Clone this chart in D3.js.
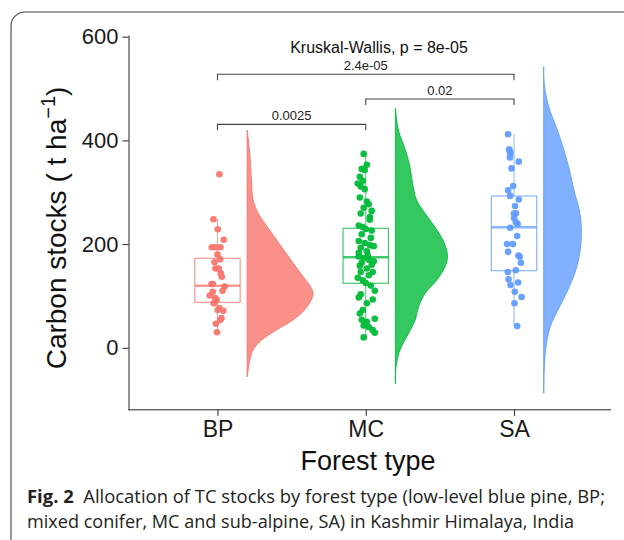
<!DOCTYPE html>
<html lang="en">
<head>
<meta charset="utf-8">
<title>Carbon stocks by forest type</title>
<script src="https://d3js.org/d3.v7.min.js"></script>
<style>
  body { margin: 0; background: #fff; }
  svg { display: block; }
</style>
</head>
<body>
<div id="chart"></div>
<script>
// categories and colours
const groups = ["BP", "MC", "SA"];
const colors = ["#F8766D", "#00BA38", "#619CFF"];

// jittered points: values (t/ha) and horizontal jitter (x-axis units)
const bpValues = [334.6, 248, 228.5, 208.5, 194, 194, 194, 180, 170.6, 153, 153, 143.7, 137, 123, 123, 118, 108, 101, 96, 92, 85.7, 76.7, 73, 71.5, 57.5, 53.6, 46.5, 30, 165, 110];
const bpJitter = [0.013, -0.027, 0.002, 0.042, -0.038, -0.011, 0.020, 0, 0.018, -0.013, 0.009, 0.022, 0.029, -0.040, -0.032, 0.049, -0.032, -0.052, -0.016, -0.005, -0.025, 0.013, 0.002, 0.040, 0.027, 0.018, -0.011, -0.003, -0.020, 0.034];

const mcValues = [374, 353, 345, 343, 330, 322, 317, 311, 306, 282, 277, 270, 264, 259, 247, 236, 233, 229, 226, 219, 212, 206, 202, 198, 193, 196, 186, 176, 173, 170, 167, 164, 160, 158, 153, 146, 146, 140, 135, 130, 125, 120, 110, 103, 93, 86, 97, 73, 66, 56, 54, 50, 43, 40, 34, 29, 20, 183, 178, 290, 252];
const mcJitter = [-0.014, 0.007, -0.027, -0.007, -0.040, -0.020, -0.054, -0.034, -0.007, 0.007, 0.020, -0.014, 0.040, -0.034, 0.027, -0.047, -0.020, 0, 0.040, -0.027, 0.034, -0.047, -0.007, 0.027, -0.034, 0.054, 0.007, -0.047, -0.014, 0.020, 0.054, -0.027, 0.040, -0.040, 0.007, -0.034, 0.047, 0.020, -0.054, -0.020, 0, 0.034, 0.061, -0.034, 0.047, 0.007, -0.047, -0.020, -0.040, 0.061, -0.027, 0.007, -0.014, 0.020, 0.047, 0.061, -0.014, -0.047, 0.014, -0.040, 0.027];

const saValues = [412, 383, 378, 375, 367, 359, 346, 312, 304, 293, 286, 273.5, 259.4, 259, 250, 239, 242, 231.6, 215.6, 200, 200, 185, 178, 175.7, 164, 146, 149.5, 132, 126, 121, 108, 98, 86, 42];
const saJitter = [-0.040, -0.033, -0.028, -0.024, -0.028, 0.032, -0.017, -0.006, -0.040, -0.026, 0.032, 0.007, 0.012, -0.001, 0.001, 0.024, 0.012, -0.026, 0.021, -0.047, -0.008, -0.040, 0.030, 0.039, 0.046, -0.042, 0.012, -0.037, 0.028, -0.024, 0.005, 0.051, 0.003, 0.021];

// box stats: whisker low, Q1, median, Q3, whisker high
const boxLow = [30, 18, 42];
const boxQ1 = [87.7, 124.4, 148.7];
const boxMedian = [119.6, 174.5, 232.4];
const boxQ3 = [172.6, 230.5, 292.8];
const boxHigh = [249, 375, 412];

// half-violin density profiles (value, relative width)
const bpViolinY = [420, 375, 324, 285, 259, 227, 195, 163, 137, 118, 105, 92, 73, 54, 34, 15, -4, -24, -56];
const bpViolinW = [0, 0.04, 0.065, 0.09, 0.17, 0.34, 0.52, 0.70, 0.85, 0.96, 1.0, 0.97, 0.87, 0.70, 0.44, 0.22, 0.09, 0.04, 0];
const mcViolinY = [462, 420, 382, 349, 317, 285, 259, 227, 202, 176, 156, 131, 105, 79, 54, 28, -4, -36, -69];
const mcViolinW = [0, 0.045, 0.15, 0.22, 0.26, 0.32, 0.45, 0.63, 0.74, 0.79, 0.75, 0.63, 0.45, 0.35, 0.30, 0.20, 0.07, 0.01, 0];
const saViolinY = [542, 523, 497, 459, 426, 388, 343, 298, 266, 234, 195, 156, 118, 79, 41, 2, -36, -88];
const saViolinW = [0, 0, 0.02, 0.09, 0.19, 0.29, 0.39, 0.47, 0.54, 0.57, 0.56, 0.50, 0.39, 0.24, 0.10, 0.035, 0.01, 0];

// significance brackets
const bracketFrom = ["BP", "MC", "BP"];
const bracketTo = ["MC", "SA", "SA"];
const bracketY = [431, 480, 527.5];
const bracketLabel = ["0.0025", "0.02", "2.4e-05"];

const yTicks = [0, 200, 400, 600];
const testLabel = "Kruskal-Wallis, p = 8e-05";

const pointsByGroup = [
  bpValues.map((v, i) => ({ v: v, j: bpJitter[i] })),
  mcValues.map((v, i) => ({ v: v, j: mcJitter[i] })),
  saValues.map((v, i) => ({ v: v, j: saJitter[i] }))
];
const violins = [
  bpViolinY.map((v, i) => ({ v: v, w: bpViolinW[i] })),
  mcViolinY.map((v, i) => ({ v: v, w: mcViolinW[i] })),
  saViolinY.map((v, i) => ({ v: v, w: saViolinW[i] }))
];

const width = 624, height = 540;
const font = "'Liberation Sans', Arial, sans-serif";

const svg = d3.select("#chart").append("svg")
  .attr("width", width)
  .attr("height", height);

// figure frame (rounded, runs off the right and bottom)
svg.append("rect")
  .attr("x", 11).attr("y", 12)
  .attr("width", 700).attr("height", 600)
  .attr("rx", 14)
  .attr("fill", "none")
  .attr("stroke", "#444")
  .attr("stroke-width", 1.1);

// scales
const plotLeft = 128.5, plotRight = 611, plotTop = 35, plotBottom = 409.8;
const x = d3.scalePoint().domain(groups).range([plotLeft, 603]).padding(0.6);
const step = x.step();
const y = d3.scaleLinear().domain([-119.6, 603.3]).range([plotBottom, plotTop]);

// axes
const yAxis = svg.append("g")
  .attr("transform", "translate(" + plotLeft + ",0)")
  .call(d3.axisLeft(y).tickValues(yTicks).tickSize(6).tickSizeOuter(0).tickPadding(4));
yAxis.selectAll("text").style("font", "22px " + font).attr("fill", "#1a1a1a");
yAxis.selectAll("line, path").attr("stroke", "#222");

const xAxis = svg.append("g")
  .attr("transform", "translate(0," + plotBottom + ")")
  .call(d3.axisBottom(x).tickSize(6).tickSizeOuter(0).tickPadding(5));
xAxis.select(".domain").attr("d", "M" + plotLeft + ",0H" + plotRight);
xAxis.selectAll("text").style("font", "23px " + font).attr("fill", "#1a1a1a").attr("dy", "0.71em");
xAxis.selectAll("line, path").attr("stroke", "#222");

// axis titles
svg.append("text")
  .attr("x", 368).attr("y", 470)
  .attr("text-anchor", "middle")
  .style("font", "27px " + font)
  .attr("fill", "#111")
  .text("Forest type");

const yTitle = svg.append("text")
  .attr("transform", "translate(66,228) rotate(-90)")
  .attr("text-anchor", "middle")
  .style("font", "28px " + font)
  .attr("fill", "#111");
yTitle.append("tspan").text("Carbon stocks ( t ha");
yTitle.append("tspan").attr("dy", -11).style("font-size", "20px").text("\u22121");
yTitle.append("tspan").attr("dy", 11).text(")");

// half violins
const area = d3.area()
  .curve(d3.curveCatmullRom)
  .y(d => y(d.v));

groups.forEach((g, i) => {
  const edge = x(g) + 0.2 * step;
  area.x0(edge).x1(d => edge + d.w * 0.445 * step);
  svg.append("path")
    .datum(violins[i])
    .attr("d", area)
    .attr("fill", colors[i])
    .attr("fill-opacity", 0.8)
    .attr("stroke", colors[i])
    .attr("stroke-width", 0.9);
});

// boxes
const halfBox = 0.153 * step;
groups.forEach((g, i) => {
  const cx = x(g);
  const b = svg.append("g")
    .attr("stroke", colors[i])
    .attr("stroke-opacity", 0.75)
    .attr("fill", "none");
  b.append("line").attr("x1", cx).attr("x2", cx)
    .attr("y1", y(boxQ3[i])).attr("y2", y(boxHigh[i])).attr("stroke-width", 1);
  b.append("line").attr("x1", cx).attr("x2", cx)
    .attr("y1", y(boxQ1[i])).attr("y2", y(boxLow[i])).attr("stroke-width", 1);
  b.append("rect")
    .attr("x", cx - halfBox).attr("width", 2 * halfBox)
    .attr("y", y(boxQ3[i])).attr("height", y(boxQ1[i]) - y(boxQ3[i]))
    .attr("fill", "#fff")
    .attr("stroke-width", 1.2);
  b.append("line")
    .attr("x1", cx - halfBox).attr("x2", cx + halfBox)
    .attr("y1", y(boxMedian[i])).attr("y2", y(boxMedian[i]))
    .attr("stroke-width", 2.4);
});

// jittered points
groups.forEach((g, i) => {
  svg.append("g").selectAll("circle")
    .data(pointsByGroup[i])
    .enter().append("circle")
    .attr("cx", d => x(g) + d.j * step)
    .attr("cy", d => y(d.v))
    .attr("r", 3.3)
    .attr("fill", colors[i])
    .attr("fill-opacity", 0.95);
});

// significance brackets
const tick = 11.5;
bracketLabel.forEach((lab, i) => {
  const x1 = x(bracketFrom[i]), x2 = x(bracketTo[i]);
  const yy = y(bracketY[i]);
  svg.append("path")
    .attr("d", "M" + x1 + "," + y(bracketY[i] - tick) + "V" + yy + "H" + x2 + "V" + y(bracketY[i] - tick))
    .attr("fill", "none")
    .attr("stroke", "#444")
    .attr("stroke-width", 1.1);
  svg.append("text")
    .attr("x", (x1 + x2) / 2).attr("y", yy - 4)
    .attr("text-anchor", "middle")
    .style("font", "13px " + font)
    .attr("fill", "#222")
    .text(lab);
});

svg.append("text")
  .attr("x", 379).attr("y", 53)
  .attr("text-anchor", "middle")
  .style("font", "16px " + font)
  .attr("fill", "#111")
  .text(testLabel);

// caption
const capFont = "'Open Sans', 'Noto Sans', sans-serif";
const cap1 = svg.append("text")
  .attr("x", 27).attr("y", 503)
  .attr("textLength", 578).attr("lengthAdjust", "spacingAndGlyphs")
  .style("font", "18px " + capFont)
  .attr("fill", "#231f20");
cap1.append("tspan").style("font-weight", "bold").text("Fig. 2");
cap1.append("tspan").text("\u00a0\u00a0Allocation of TC stocks by forest type (low-level blue pine, BP;");

svg.append("text")
  .attr("x", 27).attr("y", 528)
  .attr("textLength", 547).attr("lengthAdjust", "spacingAndGlyphs")
  .style("font", "18px " + capFont)
  .attr("fill", "#231f20")
  .text("mixed conifer, MC and sub-alpine, SA) in Kashmir Himalaya, India");
</script>
</body>
</html>
